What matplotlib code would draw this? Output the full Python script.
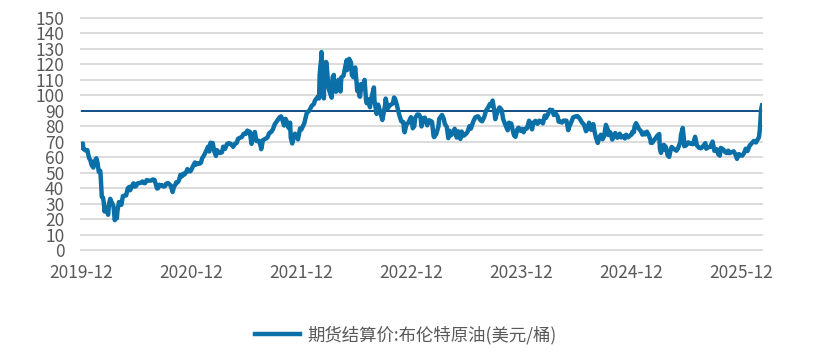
import matplotlib
matplotlib.use('Agg')
import matplotlib.pyplot as plt
import matplotlib.dates as mdates
import pandas as pd

plt.rcParams['font.family'] = ['Noto Sans CJK SC', 'DejaVu Sans']

# Brent futures settlement, USD/bbl
d2020 = ['01-02', '01-06', '01-08', '01-14', '01-21', '01-27', '01-31',
         '02-04', '02-10', '02-14', '02-20', '02-24', '02-28',
         '03-04', '03-06', '03-09', '03-13', '03-16', '03-18', '03-20', '03-24', '03-30',
         '04-02', '04-06', '04-09', '04-14', '04-17', '04-21', '04-24', '04-28', '04-30',
         '05-05', '05-08', '05-13', '05-18', '05-22', '05-29',
         '06-03', '06-08', '06-11', '06-16', '06-22', '06-26', '06-30',
         '07-06', '07-10', '07-16', '07-22', '07-28', '07-31',
         '08-05', '08-10', '08-14', '08-20', '08-26', '08-31',
         '09-04', '09-08', '09-11', '09-16', '09-21', '09-25', '09-30',
         '10-05', '10-09', '10-14', '10-19', '10-23', '10-28', '10-30',
         '11-04', '11-09', '11-11', '11-16', '11-20', '11-25', '11-30',
         '12-04', '12-09', '12-15', '12-18', '12-21', '12-28', '12-31']
v2020 = [66.3, 68.9, 65.4, 64.5, 64.6, 59.3, 58.2,
         55.0, 53.3, 57.3, 59.3, 56.3, 50.5,
         51.1, 45.3, 34.4, 33.9, 30.1, 24.9, 27.0, 27.2, 22.8,
         29.9, 33.1, 31.5, 29.6, 28.1, 19.3, 21.4, 20.5, 25.3,
         31.0, 31.0, 29.2, 34.8, 35.1, 35.3,
         39.8, 40.8, 38.6, 41.0, 43.1, 41.0, 41.2,
         43.1, 43.2, 43.4, 44.3, 43.2, 43.3,
         45.2, 45.0, 44.8, 44.9, 45.6, 45.3,
         42.7, 39.8, 39.8, 42.2, 41.4, 41.9, 41.0,
         41.3, 42.9, 43.3, 42.6, 41.8, 39.1, 37.5,
         41.2, 42.4, 43.8, 43.8, 45.0, 48.6, 47.6,
         49.3, 48.9, 50.8, 52.3, 50.9, 50.9, 51.8]

d2021 = ['01-06', '01-12', '01-15', '01-21', '01-27', '02-01', '02-05', '02-11',
         '02-18', '02-25', '03-01', '03-05', '03-08', '03-12', '03-18', '03-23',
         '03-26', '03-31', '04-06', '04-12', '04-16', '04-22', '04-29', '05-05',
         '05-11', '05-19', '05-25', '05-31', '06-04', '06-10', '06-17', '06-23',
         '06-30', '07-05', '07-09', '07-13', '07-19', '07-23', '07-30', '08-04',
         '08-10', '08-13', '08-19', '08-20', '08-26', '08-31', '09-06', '09-10',
         '09-16', '09-22', '09-28', '10-04', '10-08', '10-14', '10-20', '10-25',
         '10-29', '11-04', '11-09', '11-15', '11-19', '11-24', '11-26', '12-01',
         '12-06', '12-10', '12-15', '12-20', '12-27', '12-31']
v2021 = [54.3, 56.6, 55.1, 56.1, 55.8, 56.4, 59.3, 61.1,
         63.9, 66.9, 63.7, 69.4, 68.2, 69.2, 63.3, 60.8,
         64.6, 63.5, 62.7, 63.3, 66.8, 65.4, 68.6, 69.1,
         68.6, 66.7, 68.7, 69.3, 71.9, 72.5, 73.1, 75.2,
         75.1, 77.2, 75.6, 76.5, 68.6, 74.1, 76.3, 70.4,
         70.6, 70.6, 66.5, 65.2, 71.1, 71.6, 72.2, 72.9,
         75.7, 76.2, 78.1, 81.3, 82.4, 84.0, 85.8, 86.4,
         84.4, 80.5, 84.8, 82.1, 78.9, 82.3, 72.7, 68.9,
         73.1, 75.2, 73.9, 71.5, 78.6, 77.8]

d2022 = ['01-03', '01-10', '01-18', '01-26', '02-04', '02-11', '02-14', '02-24',
         '02-28', '03-01', '03-02', '03-04', '03-07', '03-08', '03-09', '03-10',
         '03-14', '03-16', '03-17', '03-21', '03-23', '03-25', '03-29', '04-01',
         '04-06', '04-11', '04-14', '04-18', '04-19', '04-25', '04-28', '05-04',
         '05-10', '05-13', '05-20', '05-27', '05-31', '06-01', '06-08', '06-14',
         '06-17', '06-22', '06-28', '07-05', '07-08', '07-12', '07-14', '07-19',
         '07-26', '07-29', '08-03', '08-05', '08-10', '08-16', '08-19', '08-29',
         '08-31', '09-07', '09-12', '09-16', '09-23', '09-26', '09-30', '10-05',
         '10-07', '10-14', '10-21', '10-31', '11-04', '11-07', '11-14', '11-21',
         '11-28', '12-05', '12-07', '12-09', '12-15', '12-21', '12-30']
v2022 = [79.0, 81.9, 88.5, 90.0, 93.3, 94.4, 96.5, 99.1,
         98.0, 105.0, 112.9, 118.1, 123.2, 128.0, 111.1, 109.3,
         106.9, 98.0, 106.6, 115.6, 121.6, 120.7, 110.2, 104.4,
         101.1, 98.5, 111.7, 113.2, 107.3, 102.3, 107.6, 110.1,
         102.5, 111.6, 112.6, 119.4, 122.8, 116.3, 123.6, 121.2,
         113.1, 111.7, 118.0, 102.8, 107.0, 99.5, 99.1, 107.4,
         104.4, 110.0, 96.8, 94.9, 97.4, 92.3, 96.7, 105.1,
         96.5, 88.0, 94.0, 91.4, 86.2, 84.1, 88.0, 93.4,
         97.9, 91.6, 93.5, 94.8, 98.6, 97.9, 93.1, 87.5,
         83.2, 82.7, 77.2, 76.1, 81.2, 82.2, 85.9]

d2023 = ['01-03', '01-05', '01-10', '01-13', '01-20', '01-26', '01-31', '02-03',
         '02-08', '02-14', '02-22', '02-28', '03-07', '03-10', '03-15', '03-17',
         '03-20', '03-24', '03-31', '04-03', '04-12', '04-18', '04-21', '04-28',
         '05-03', '05-08', '05-12', '05-19', '05-24', '05-31', '06-05', '06-12',
         '06-16', '06-23', '06-30', '07-06', '07-12', '07-17', '07-24', '07-31',
         '08-04', '08-10', '08-17', '08-23', '08-30', '09-05', '09-12', '09-18',
         '09-22', '09-27', '10-02', '10-06', '10-10', '10-18', '10-20', '10-27',
         '11-01', '11-07', '11-16', '11-20', '11-28', '12-01', '12-07', '12-12',
         '12-18', '12-22', '12-29']
v2023 = [82.1, 78.7, 80.1, 85.3, 87.6, 87.5, 85.5, 79.9,
         85.1, 85.6, 80.6, 83.9, 83.3, 82.8, 73.7, 73.0,
         73.8, 75.0, 79.8, 84.9, 87.3, 84.8, 81.7, 79.5,
         72.3, 77.0, 74.2, 75.6, 78.4, 72.7, 76.7, 71.8,
         76.6, 73.9, 74.9, 76.5, 80.1, 78.5, 82.7, 85.6,
         86.2, 86.4, 84.1, 83.2, 85.9, 90.0, 92.1, 94.4,
         93.3, 96.6, 90.7, 84.6, 87.7, 91.5, 92.2, 90.5,
         84.6, 81.6, 77.4, 82.3, 81.7, 78.9, 74.1, 73.2,
         78.0, 79.1, 77.0]

d2024 = ['01-03', '01-08', '01-12', '01-19', '01-26', '01-31', '02-05', '02-09',
         '02-16', '02-23', '02-29', '03-06', '03-12', '03-18', '03-22', '03-28',
         '04-04', '04-08', '04-12', '04-17', '04-23', '04-30', '05-03', '05-07',
         '05-14', '05-20', '05-29', '06-04', '06-07', '06-14', '06-20', '06-28',
         '07-05', '07-12', '07-19', '07-26', '08-02', '08-07', '08-12', '08-19',
         '08-23', '08-26', '08-30', '09-04', '09-10', '09-13', '09-20', '09-26',
         '10-01', '10-07', '10-14', '10-15', '10-22', '10-28', '11-01', '11-07',
         '11-14', '11-22', '11-27', '12-03', '12-09', '12-13', '12-20', '12-27',
         '12-31']
v2024 = [78.3, 76.1, 78.3, 78.6, 83.6, 81.7, 78.0, 82.2,
         83.5, 81.6, 83.6, 83.0, 81.9, 86.9, 85.4, 87.5,
         90.7, 90.4, 90.5, 87.3, 88.4, 86.3, 83.0, 83.2,
         82.4, 83.7, 83.6, 77.5, 79.6, 82.6, 85.7, 86.4,
         86.5, 85.0, 82.6, 81.1, 76.8, 78.3, 82.3, 77.7,
         79.0, 81.4, 76.9, 72.7, 69.2, 71.6, 74.5, 71.6,
         73.6, 80.9, 77.5, 74.3, 76.0, 71.4, 73.1, 75.6,
         72.6, 75.2, 72.8, 73.6, 72.1, 74.5, 72.9, 74.2,
         74.6]

d2025 = ['01-03', '01-08', '01-10', '01-15', '01-20', '01-24', '01-31', '02-05',
         '02-10', '02-14', '02-20', '02-27', '03-04', '03-05', '03-10', '03-14',
         '03-20', '03-26', '04-02', '04-04', '04-08', '04-09', '04-15', '04-17',
         '04-24', '04-30', '05-05', '05-09', '05-13', '05-20', '05-29', '06-03',
         '06-11', '06-13', '06-19', '06-23', '06-24', '06-30', '07-07', '07-15',
         '07-23', '07-30', '08-05', '08-12', '08-19', '08-26', '09-02', '09-05',
         '09-11', '09-19', '09-26', '10-02', '10-09', '10-15', '10-20', '10-23',
         '10-31', '11-06', '11-12', '11-17', '11-21', '11-28', '12-05', '12-10',
         '12-16', '12-22', '12-31']
v2025 = [76.5, 76.2, 79.8, 82.0, 80.2, 78.5, 76.8, 74.6,
         75.9, 74.7, 76.5, 74.0, 71.0, 69.3, 69.3, 70.6,
         72.0, 73.8, 75.0, 65.6, 62.8, 65.5, 64.7, 68.0,
         66.6, 61.1, 60.2, 63.9, 66.6, 65.4, 64.2, 65.6,
         69.8, 74.2, 78.9, 71.5, 67.1, 67.6, 69.6, 68.7,
         68.5, 73.2, 67.6, 66.1, 65.8, 67.2, 69.1, 65.5,
         66.4, 66.7, 70.1, 64.1, 65.2, 61.9, 61.0, 66.0,
         65.1, 63.4, 62.7, 64.2, 62.6, 63.2, 63.8, 62.2,
         58.9, 62.0, 61.0]

d2026 = ['01-02', '01-08', '01-14', '01-20', '01-27', '02-03', '02-10', '02-17',
         '02-24', '02-27', '03-02', '03-04', '03-06', '03-09']
v2026 = [61.0, 62.5, 65.5, 64.0, 67.5, 69.0, 70.5, 69.5,
         72.0, 73.0, 78.0, 84.0, 91.0, 93.5]

ref_level = 90
y_ticks = list(range(0, 151, 10))
x_tick_years = [2019, 2020, 2021, 2022, 2023, 2024, 2025]
series_label = '期货结算价:布伦特原油(美元/桶)'

dates = []
values = []
for yr, dd, vv in [(2020, d2020, v2020), (2021, d2021, v2021), (2022, d2022, v2022),
                   (2023, d2023, v2023), (2024, d2024, v2024), (2025, d2025, v2025),
                   (2026, d2026, v2026)]:
    dates += [pd.Timestamp(f'{yr}-{d}') for d in dd]
    values += vv

grey = '#595959'
fig = plt.figure(figsize=(8.14, 3.62), dpi=100)
ax = fig.add_axes([81 / 814, 1 - 250 / 362, 681 / 814, 232 / 362])

for t in y_ticks:
    ax.axhline(t, color='#D9D9D9', linewidth=1.3, zorder=0, clip_on=False)
ax.axhline(ref_level, color='#124E85', linewidth=1.4, zorder=2)
line, = ax.plot(dates, values, color='#0B70A8', linewidth=3.2,
                solid_joinstyle='round', zorder=3, label=series_label)

ax.set_xlim(dates[0], dates[-1])
ax.set_ylim(0, 150)
ax.set_yticks(y_ticks)
ax.set_xticks([pd.Timestamp(f'{y}-12-31') for y in x_tick_years])
ax.xaxis.set_major_formatter(mdates.DateFormatter('%Y-%m'))
for s in ax.spines.values():
    s.set_visible(False)
ax.tick_params(axis='both', length=0, labelsize=12.5, colors=grey)
ax.tick_params(axis='y', pad=12)
ax.tick_params(axis='x', pad=10)

fig.legend(handles=[line], loc='center', bbox_to_anchor=(406 / 814, 1 - 335 / 362),
           frameon=False, fontsize=12.5, handlelength=2.6, handletextpad=0.4,
           labelcolor=grey)

fig.savefig('out.png', dpi=100)
